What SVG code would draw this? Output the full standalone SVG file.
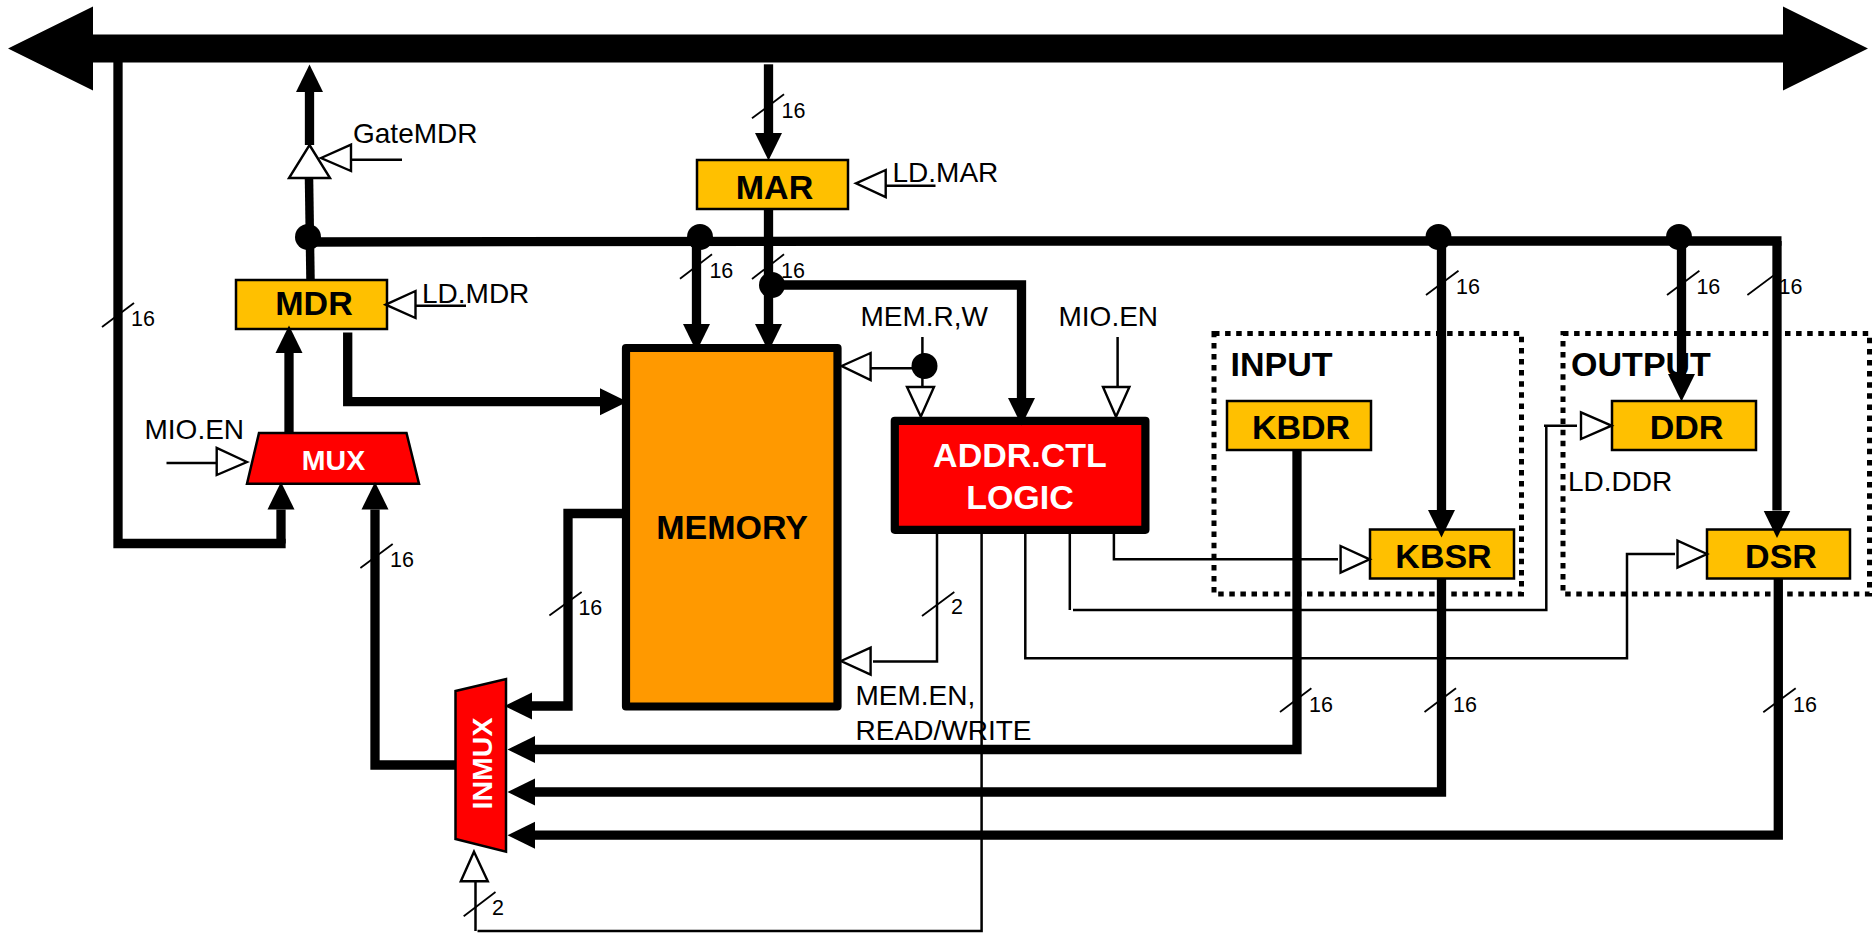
<svg xmlns="http://www.w3.org/2000/svg" width="1872" height="933" viewBox="0 0 1872 933">
<style>
text{font-family:"Liberation Sans",Arial,sans-serif;fill:#000}
.sig{font-size:28px}
.w16{font-size:21.5px}
.reg{font-size:34px;font-weight:bold;text-anchor:middle}
.sm{font-size:28.5px}
.wh{fill:#fff}
.orange{fill:#FFC000;stroke:#000;stroke-width:2.5}
.mem{fill:#FF9900;stroke:#000;stroke-width:8.2;stroke-linejoin:round}
.ctl{fill:#FF0000;stroke:#000;stroke-width:8.2;stroke-linejoin:round}
.mux{fill:#FF0000;stroke:#000;stroke-width:2.5;stroke-linejoin:miter}
.dot{fill:none;stroke:#000;stroke-width:5;stroke-dasharray:5.5 5.6}
.bus{fill:none;stroke:#000;stroke-width:9.3;stroke-linejoin:miter;stroke-linecap:square}
.bush{fill:none;stroke:#000;stroke-width:9.3;stroke-linejoin:miter;marker-end:url(#head)}
.thin{fill:none;stroke:#000;stroke-width:2.5}
.slash{fill:none;stroke:#000;stroke-width:1.8}
.tri{fill:#fff;stroke:#000;stroke-width:2.4;stroke-linejoin:miter}
.jn{fill:#000}
</style>
<defs>
<marker id="head" markerUnits="userSpaceOnUse" markerWidth="28" markerHeight="28" refX="0" refY="14" orient="auto"><path d="M0,0.5 L27.5,14 L0,27.5 z" fill="#000"/></marker>
</defs>

<g id="node-input"><rect class="dot" x="1214" y="333.5" width="307.5" height="260.5"/><text class="reg" x="1281.5" y="375.5">INPUT</text></g>
<g id="node-output"><rect class="dot" x="1563" y="333.5" width="306.5" height="260.5"/><text class="reg" x="1641" y="375.5">OUTPUT</text></g>

<g id="node-mdr"><rect class="orange" x="236" y="280" width="151" height="49"/><text class="reg" x="314" y="315">MDR</text></g>
<g id="node-mar"><rect class="orange" x="697" y="160" width="151" height="49"/><text class="reg" x="774.5" y="198.5">MAR</text></g>
<g id="node-kbdr"><rect class="orange" x="1227" y="401" width="144" height="49"/><text class="reg" x="1301" y="439">KBDR</text></g>
<g id="node-ddr"><rect class="orange" x="1612" y="401" width="144" height="49"/><text class="reg" x="1686.5" y="439">DDR</text></g>
<g id="node-kbsr"><rect class="orange" x="1370" y="529.5" width="144" height="49"/><text class="reg" x="1443.5" y="568">KBSR</text></g>
<g id="node-dsr"><rect class="orange" x="1707" y="529.5" width="143" height="49"/><text class="reg" x="1781" y="568">DSR</text></g>
<g id="node-memory"><rect class="mem" x="626" y="348" width="211.5" height="358.5"/><text class="reg" x="732" y="538.5">MEMORY</text></g>
<g id="node-addrctl"><rect class="ctl" x="894.8" y="420.8" width="250.6" height="109"/><text class="reg wh" x="1020" y="467">ADDR.CTL</text><text class="reg wh" x="1020" y="509">LOGIC</text></g>
<g id="node-mux"><polygon class="mux" points="259,433 406.5,433 419,483.7 247,483.7"/><text class="reg wh sm" x="333.5" y="469.5">MUX</text></g>
<g id="node-inmux"><polygon class="mux" points="455.5,691 506,679 506,851.7 455.5,839"/><text class="reg wh sm" transform="translate(491.5 763.5) rotate(-90)">INMUX</text></g>

<g id="connectors">
<polygon id="main-bus" fill="#000" points="8,48.5 93,6.5 93,34.5 1783,34.5 1783,6.5 1868,48.5 1783,90.5 1783,62.5 93,62.5 93,90.5"/>
<polyline class="bus" points="118,62 118,543.5 281,543.5"/>
<path class="bush" d="M281,543.5 V509.5"/>
<path class="bush" d="M309.5,145 V92"/>
<path class="bus" style="stroke-linecap:butt;stroke-width:8.5" d="M309,178 L310.5,280"/>
<path class="bus" style="stroke-linecap:butt" d="M308,242 L1000,241 H1781.5"/>
<path class="bush" d="M289,433 V353"/>
<polyline class="bush" points="347.7,332.5 347.7,401.7 600,401.7"/>
<path class="bush" d="M768.5,64.3 V133"/>
<path class="bush" d="M768.5,209 V324"/>
<path class="bush" d="M696.5,241 V324"/>
<polyline class="bush" points="772,285 1021.5,285 1021.5,398"/>
<path class="bush" d="M1441.5,241 V510"/>
<path class="bush" d="M1681.5,241 V374"/>
<path class="bush" d="M1777,241 V510.5"/>
<polyline class="bush" points="626,513.5 568,513.5 568,706 532,706"/>
<polyline class="bush" points="455,765 375,765 375,509.5"/>
<polyline class="bush" points="1297,450 1297,749.5 535,749.5"/>
<polyline class="bush" points="1441.5,578 1441.5,792 535,792"/>
<polyline class="bush" points="1778.3,578 1778.3,835.2 535,835.2"/>

<circle class="jn" cx="308" cy="237" r="13"/>
<circle class="jn" cx="700" cy="237" r="13"/>
<circle class="jn" cx="1438.5" cy="237" r="13"/>
<circle class="jn" cx="1679" cy="237" r="13"/>
<circle class="jn" cx="772" cy="285" r="13"/>
<circle class="jn" cx="924.5" cy="366" r="13"/>

<path class="thin" d="M937,534 V661.5 H873"/>
<path class="thin" d="M981.6,534 V931 H477.5"/>
<path class="thin" d="M475.5,881 V931"/>
<path class="thin" d="M1025.3,534 V658.3 H1627 V554 H1675"/>
<path class="thin" d="M1069.8,534 V610"/>
<path class="thin" d="M1073,610 H1546.3 V425.7"/>
<path class="thin" d="M1544,425.7 H1577"/>
<path class="thin" d="M1113.9,534 V559.3 H1338"/>
<path class="thin" d="M922.4,337 V387"/>
<path class="thin" d="M1117.6,337 V387"/>
<path class="thin" d="M870.6,368.3 H924"/>
<path class="thin" d="M351,159.7 H402"/>
<path class="thin" d="M415.5,305.7 H466"/>
<path class="thin" d="M885.7,185.7 H935.5"/>
<path class="thin" d="M166.5,463 H216.7"/>

<polygon class="tri" points="309.5,145 330,178 289,178"/>
<polygon class="tri" points="321,158 351,144.7 351,171"/>
<polygon class="tri" points="385.7,304.7 415.5,291 415.5,318"/>
<polygon class="tri" points="856,183.3 885.7,170 885.7,197"/>
<polygon class="tri" points="841.6,366 870.6,353 870.6,380"/>
<polygon class="tri" points="907,387 934,387 920.8,416.7"/>
<polygon class="tri" points="1103,387 1129.4,387 1116,416.7"/>
<polygon class="tri" points="841,661 870.6,647.7 870.6,674.7"/>
<polygon class="tri" points="247,462 216.7,448 216.7,475"/>
<polygon class="tri" points="474,851.7 487.8,881.3 460.8,881.3"/>
<polygon class="tri" points="1369.7,559.3 1340.6,546 1340.6,572.7"/>
<polygon class="tri" points="1611.5,425.7 1581,412.3 1581,439"/>
<polygon class="tri" points="1707,554 1677.5,540.7 1677.5,567.7"/>

<path class="slash" d="M102,327 L134,303"/><text class="w16" x="131" y="326">16</text>
<path class="slash" d="M752,118.3 L784,94.3"/><text class="w16" x="781.5" y="118">16</text>
<path class="slash" d="M680,278.7 L712,254.3"/><text class="w16" x="709.4" y="278">16</text>
<path class="slash" d="M752,279 L784,254.3"/><text class="w16" x="781" y="278">16</text>
<path class="slash" d="M1426,295 L1458.5,270.7"/><text class="w16" x="1456" y="293.7">16</text>
<path class="slash" d="M1667,295 L1699.4,270.7"/><text class="w16" x="1696.4" y="293.7">16</text>
<path class="slash" d="M1747.4,295 L1780,270.7"/><text class="w16" x="1778.6" y="293.7">16</text>
<path class="slash" d="M360.4,568 L392.7,544"/><text class="w16" x="390" y="566.7">16</text>
<path class="slash" d="M549.4,615.6 L581.6,592"/><text class="w16" x="578.4" y="615">16</text>
<path class="slash" d="M1280,712 L1311.4,688.3"/><text class="w16" x="1309" y="711.7">16</text>
<path class="slash" d="M1424.5,712 L1456,688.3"/><text class="w16" x="1453" y="711.7">16</text>
<path class="slash" d="M1763.3,712.3 L1795.7,688.3"/><text class="w16" x="1793" y="711.7">16</text>
<path class="slash" d="M922,616 L954.3,592"/><text class="w16" x="951" y="614.3">2</text>
<path class="slash" d="M463.7,916.3 L495.5,892"/><text class="w16" x="492" y="915">2</text>
</g>

<g id="labels">
<text class="sig" x="353" y="142.7">GateMDR</text>
<text class="sig" x="422" y="303">LD.MDR</text>
<text class="sig" x="892.5" y="181.7">LD.MAR</text>
<text class="sig" x="860.5" y="325.5">MEM.R,W</text>
<text class="sig" x="1058.5" y="325.5">MIO.EN</text>
<text class="sig" x="144.5" y="439">MIO.EN</text>
<text class="sig" x="1568" y="491">LD.DDR</text>
<text class="sig" x="855.5" y="705">MEM.EN,</text>
<text class="sig" x="855.5" y="740" textLength="176">READ/WRITE</text>
</g>
</svg>
